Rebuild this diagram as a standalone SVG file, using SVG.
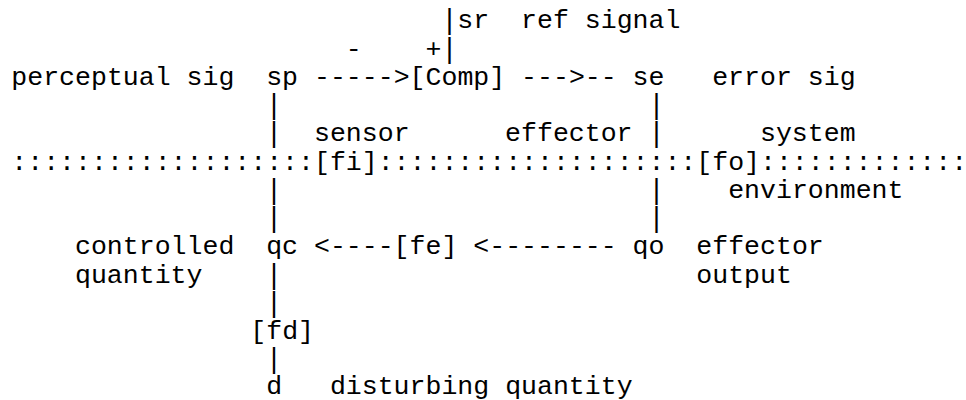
<svg xmlns="http://www.w3.org/2000/svg" width="966" height="400" viewBox="0 0 966 400">
<style>
text{font-family:"Liberation Mono","Courier New",monospace;font-size:26.55px;fill:#000}
text.bar{font-family:"DejaVu Sans Mono","Liberation Mono",monospace;text-anchor:middle}
</style>
<rect width="966" height="400" fill="#fff"/>
<g id="connectors">
<text class="bar" x="449.4" y="28.3">|</text>
<text class="bar" x="449.4" y="56.5">|</text>
<text x="314.0" y="84.8">-----&gt;</text>
<text x="521.1" y="84.8">---&gt;--</text>
<text class="bar" x="274.1" y="113.0">|</text>
<text class="bar" x="656.4" y="113.0">|</text>
<text class="bar" x="274.1" y="141.3">|</text>
<text class="bar" x="656.4" y="141.3">|</text>
<text class="bar" x="274.1" y="197.7">|</text>
<text class="bar" x="656.4" y="197.7">|</text>
<text class="bar" x="274.1" y="226.0">|</text>
<text class="bar" x="656.4" y="226.0">|</text>
<text x="314.0" y="254.2">&lt;----</text>
<text x="473.3" y="254.2">&lt;--------</text>
<text class="bar" x="274.1" y="282.5">|</text>
<text class="bar" x="274.1" y="310.7">|</text>
<text class="bar" x="274.1" y="367.2">|</text>
</g>
<g id="boundary">
<text x="11.3" y="169.5">:::::::::::::::::::</text>
<text x="377.7" y="169.5">::::::::::::::::::::</text>
<text x="760.0" y="169.5">:::::::::::::</text>
</g>
<g id="sr"><text x="457.3" y="28.3">sr</text><text x="521.1" y="28.3">ref signal</text></g>
<g id="signs"><text x="345.8" y="56.5">-</text><text x="425.5" y="56.5">+</text></g>
<g id="sp"><text x="11.3" y="84.8">perceptual sig</text><text x="266.2" y="84.8">sp</text></g>
<g id="comp"><text x="409.6" y="84.8">[Comp]</text></g>
<g id="se"><text x="632.6" y="84.8">se</text><text x="712.2" y="84.8">error sig</text></g>
<g id="labels-system"><text x="314.0" y="141.3">sensor</text><text x="505.1" y="141.3">effector</text><text x="760.0" y="141.3">system</text></g>
<g id="fi"><text x="314.0" y="169.5">[fi]</text></g>
<g id="fo"><text x="696.3" y="169.5">[fo]</text></g>
<g id="environment"><text x="728.2" y="197.7">environment</text></g>
<g id="qc"><text x="75.0" y="254.2">controlled</text><text x="75.0" y="282.5">quantity</text><text x="266.2" y="254.2">qc</text></g>
<g id="fe"><text x="393.6" y="254.2">[fe]</text></g>
<g id="qo"><text x="632.6" y="254.2">qo</text><text x="696.3" y="254.2">effector</text><text x="696.3" y="282.5">output</text></g>
<g id="fd"><text x="250.3" y="338.9">[fd]</text></g>
<g id="d"><text x="266.2" y="393.8">d</text><text x="329.9" y="393.8">disturbing quantity</text></g>
</svg>
